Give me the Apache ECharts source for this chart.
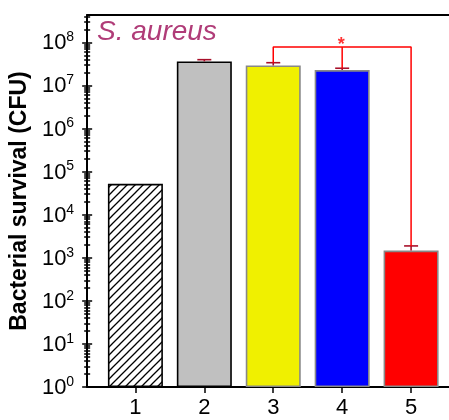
<!DOCTYPE html>
<html>
<head>
<meta charset="utf-8">
<script src="https://cdn.jsdelivr.net/npm/echarts@6/dist/echarts.min.js"></script>
<style>
  html, body { margin: 0; padding: 0; background: #fff; }
  #chart { width: 449px; height: 420px; }
</style>
</head>
<body>
<div id="chart"></div>
<script>
// 数据
var groups = [1, 2, 3, 4, 5];
var survival = [5.2e4, 3.6e7, 2.9e7, 2.27e7, 1.47e3];
var errTop = [null, 3.95e7, 3.36e7, 2.5e7, 1.88e3];
var barColors = ['hatch', '#c0c0c0', '#f0f000', '#0000ff', '#ff0000'];
var barBorders = ['#000000', '#000000', '#888888', '#888888', '#888888'];
var majorTicks = [1, 1e1, 1e2, 1e3, 1e4, 1e5, 1e6, 1e7, 1e8];
var bracketY = 7.8e7;
var yMax = 4.3e8;

// 次刻度 2..9 x 10^k
var minorTicks = [];
majorTicks.forEach(function (d) {
  for (var m = 2; m <= 9; m++) {
    if (m * d <= yMax) minorTicks.push(m * d);
  }
});

// 斜线填充
function hatch() {
  var s = 8;
  var c = document.createElement('canvas');
  c.width = s; c.height = s;
  var ctx = c.getContext('2d');
  ctx.fillStyle = '#fff';
  ctx.fillRect(0, 0, s, s);
  ctx.strokeStyle = '#000';
  ctx.lineWidth = 1.3;
  ctx.beginPath();
  ctx.moveTo(-1, s + 1); ctx.lineTo(s + 1, -1);
  ctx.moveTo(-1, 1); ctx.lineTo(1, -1);
  ctx.moveTo(s - 1, s + 1); ctx.lineTo(s + 1, s - 1);
  ctx.stroke();
  return { image: c, repeat: 'repeat' };
}

var chart = echarts.init(document.getElementById('chart'));

function hiddenY(values, inside, len) {
  return {
    type: 'log', logBase: 10, min: 1, max: yMax, position: 'left',
    axisLine: { show: false },
    axisLabel: { show: false },
    splitLine: { show: false },
    axisTick: { show: true, inside: inside, length: len, customValues: values,
      lineStyle: { color: '#000', width: 1.5 } }
  };
}

var barData = groups.map(function (g, i) {
  return {
    value: [g, survival[i]],
    itemStyle: {
      color: barColors[i] === 'hatch' ? hatch() : barColors[i],
      borderColor: barBorders[i],
      borderWidth: 1.6
    }
  };
});

var errData = [];
groups.forEach(function (g, i) {
  if (errTop[i] != null) errData.push([g, survival[i], errTop[i]]);
});

chart.setOption({
  animation: false,
  title: {
    text: 'S. aureus', left: 92, top: 13,
    textStyle: { fontFamily: 'Liberation Sans', fontStyle: 'italic', fontWeight: 'normal',
      fontSize: 28, color: '#b03c78' }
  },
  grid: { left: 87, right: 0, top: 15, bottom: 33 },
  xAxis: [{
    type: 'value', min: 0.3, max: 5.55, position: 'bottom',
    splitLine: { show: false },
    axisLine: { lineStyle: { color: '#000', width: 2 } },
    axisTick: { show: true, length: 6, customValues: groups, lineStyle: { color: '#000', width: 1.5 } },
    axisLabel: { customValues: groups, margin: 10, fontSize: 22, color: '#000', fontFamily: 'Liberation Sans' }
  }, {
    type: 'value', min: 0.3, max: 5.55, position: 'top',
    splitLine: { show: false },
    axisLine: { lineStyle: { color: '#000', width: 2 } },
    axisTick: { show: false }, axisLabel: { show: false }
  }],
  yAxis: [{
    type: 'log', logBase: 10, min: 1, max: yMax, position: 'left',
    name: 'Bacterial survival (CFU)', nameLocation: 'middle', nameGap: 52,
    nameTextStyle: { fontFamily: 'Liberation Sans', fontWeight: 'bold', fontSize: 23, color: '#000' },
    splitLine: { show: false },
    axisLine: { show: true, lineStyle: { color: '#000', width: 2 } },
    axisTick: { show: true, length: 5, customValues: majorTicks, lineStyle: { color: '#000', width: 1.5 } },
    axisLabel: {
      customValues: majorTicks, margin: 13, color: '#000',
      formatter: function (v) {
        return '{b|10}{s|' + Math.round(Math.log10(v)) + '}';
      },
      rich: {
        b: { fontSize: 22, fontFamily: 'Liberation Sans', color: '#000', verticalAlign: 'bottom', lineHeight: 24 },
        s: { fontSize: 14, fontFamily: 'Liberation Sans', color: '#000', verticalAlign: 'top', lineHeight: 24 }
      }
    }
  },
  hiddenY(majorTicks, true, 5),
  hiddenY(minorTicks, false, 3),
  hiddenY(minorTicks, true, 3)],
  series: [{
    type: 'bar', xAxisIndex: 0, yAxisIndex: 0, barWidth: 55,
    data: barData, z: 2
  }, {
    type: 'custom', xAxisIndex: 0, yAxisIndex: 0, z: 3,
    data: errData,
    renderItem: function (params, api) {
      var lo = api.coord([api.value(0), api.value(1)]);
      var hi = api.coord([api.value(0), api.value(2)]);
      var st = { stroke: '#a8102a', lineWidth: 1.6 };
      return {
        type: 'group',
        children: [
          { type: 'line', shape: { x1: lo[0], y1: lo[1], x2: hi[0], y2: hi[1] }, style: st },
          { type: 'line', shape: { x1: hi[0] - 7, y1: hi[1], x2: hi[0] + 7, y2: hi[1] }, style: st }
        ]
      };
    }
  }, {
    type: 'line', xAxisIndex: 0, yAxisIndex: 0, z: 4,
    symbol: 'none', lineStyle: { color: '#ff0000', width: 1.5 },
    data: [[3, errTop[2]], [3, bracketY], [5, bracketY], [5, errTop[4]]]
  }, {
    type: 'line', xAxisIndex: 0, yAxisIndex: 0, z: 4,
    symbol: 'none', lineStyle: { color: '#ff0000', width: 1.5 },
    data: [[4, bracketY], [4, errTop[3]]]
  }, {
    type: 'scatter', xAxisIndex: 0, yAxisIndex: 0, z: 5,
    symbolSize: 0,
    label: { show: true, position: 'top', distance: 0, offset: [-1, 7], formatter: '*',
      color: '#ff0000', fontSize: 18, fontWeight: 'bold', fontFamily: 'Liberation Sans' },
    data: [[4, bracketY]]
  }]
});
</script>
</body>
</html>
